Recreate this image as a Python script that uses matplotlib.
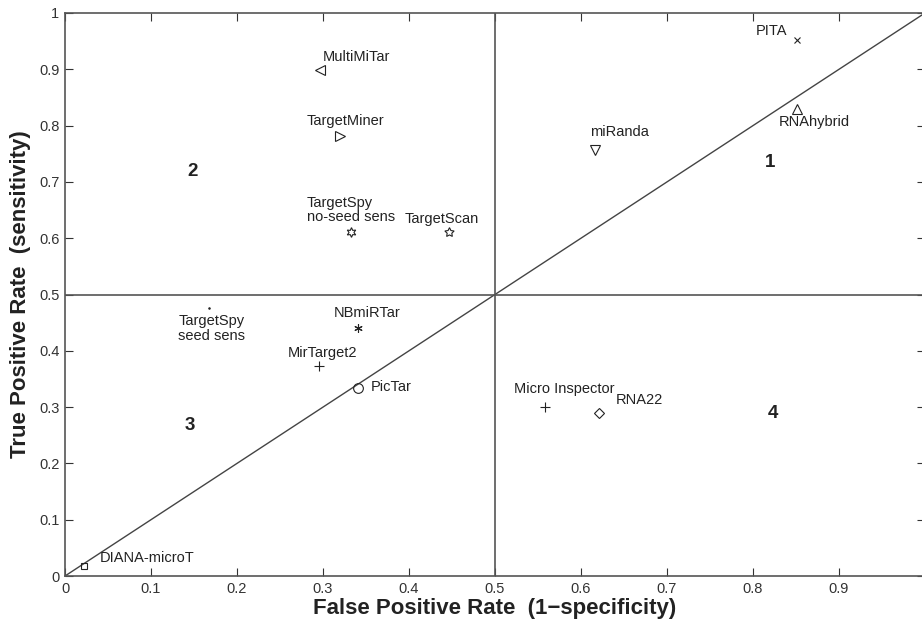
import matplotlib
matplotlib.use("Agg")
import matplotlib.pyplot as plt

names = ["MultiMiTar", "TargetMiner", "TargetSpy\nno-seed sens", "TargetScan", "PITA",
         "RNAhybrid", "miRanda", "TargetSpy\nseed sens", "NBmiRTar", "MirTarget2",
         "PicTar", "DIANA-microT", "Micro Inspector", "RNA22"]
fpr = [0.297, 0.320, 0.333, 0.447, 0.851, 0.851, 0.616, 0.167, 0.341, 0.295,
       0.341, 0.022, 0.558, 0.621]
tpr = [0.899, 0.781, 0.611, 0.611, 0.952, 0.829, 0.757, 0.476, 0.440, 0.373,
       0.334, 0.018, 0.300, 0.290]
markers = ["<", ">", (6, 1, 0), (5, 1, 0), "x", "^", "v", ".", (6, 2, 0), "+", "o", "s", "+", "D"]
msizes = [7, 7, 7, 7, 5, 7, 7, 2, 6, 7, 7, 5, 7, 5]
# label anchor positions (data coords) and alignment
label_x = [0.300, 0.281, 0.281, 0.395, 0.840, 0.830, 0.610, 0.170, 0.312, 0.259,
           0.356, 0.040, 0.522, 0.640]
label_y = [0.922, 0.808, 0.650, 0.634, 0.968, 0.806, 0.788, 0.440, 0.467, 0.396,
           0.336, 0.032, 0.332, 0.313]
label_ha = ["left", "left", "left", "left", "right", "left", "left", "center", "left", "left",
            "left", "left", "left", "left"]

regions = ["1", "2", "3", "4"]
region_x = [0.820, 0.148, 0.145, 0.823]
region_y = [0.735, 0.718, 0.268, 0.288]

tick_vals = [0, 0.1, 0.2, 0.3, 0.4, 0.5, 0.6, 0.7, 0.8, 0.9, 1]
xtick_labels = ["0", "0.1", "0.2", "0.3", "0.4", "0.5", "0.6", "0.7", "0.8", "0.9", ""]
ytick_labels = ["0", "0.1", "0.2", "0.3", "0.4", "0.5", "0.6", "0.7", "0.8", "0.9", "1"]

fig = plt.figure(figsize=(9.22, 6.25), dpi=100)
ax = fig.add_axes([65 / 922, 1 - 576 / 625, 860 / 922, 563 / 625])

line_col = "#444444"
ax.plot([0, 1], [0, 1], color=line_col, lw=1.0)
ax.axvline(0.5, color="#555555", lw=1.2)
ax.axhline(0.5, color="#555555", lw=1.2)

for i in range(len(names)):
    m = markers[i]
    filled = m in (".", "+", "x") or isinstance(m, tuple) and m[1] == 2
    ax.plot(fpr[i], tpr[i], linestyle="none", marker=m, markersize=msizes[i],
            markerfacecolor=("#222222" if filled else "none"),
            markeredgecolor="#222222", markeredgewidth=0.8)
    ax.text(label_x[i], label_y[i], names[i], ha=label_ha[i], va="center",
            fontsize=10.5, color="#222222", linespacing=1.05,
            family="Liberation Sans")

for i in range(len(regions)):
    ax.text(region_x[i], region_y[i], regions[i], ha="center", va="center",
            fontsize=13.5, fontweight="bold", color="#222222", family="Liberation Sans")

ax.set_xlim(0, 1)
ax.set_ylim(0, 1)
ax.set_xticks(tick_vals)
ax.set_xticklabels(xtick_labels)
ax.set_yticks(tick_vals)
ax.set_yticklabels(ytick_labels)
ax.tick_params(direction="in", top=True, right=True, length=6, width=0.8,
               labelsize=10.5, colors="#333333", pad=4)
for lab in ax.get_xticklabels() + ax.get_yticklabels():
    lab.set_family("Liberation Sans")
for s in ax.spines.values():
    s.set_color("#555555")
    s.set_linewidth(1.2)

ax.set_xlabel("False Positive Rate  (1\u2212specificity)", fontsize=16, fontweight="bold",
              family="Liberation Sans", labelpad=2, color="#222222")
ax.set_ylabel("True Positive Rate  (sensitivity)", fontsize=16, fontweight="bold",
              family="Liberation Sans", labelpad=6, color="#222222")

fig.savefig("out.png", dpi=100)
